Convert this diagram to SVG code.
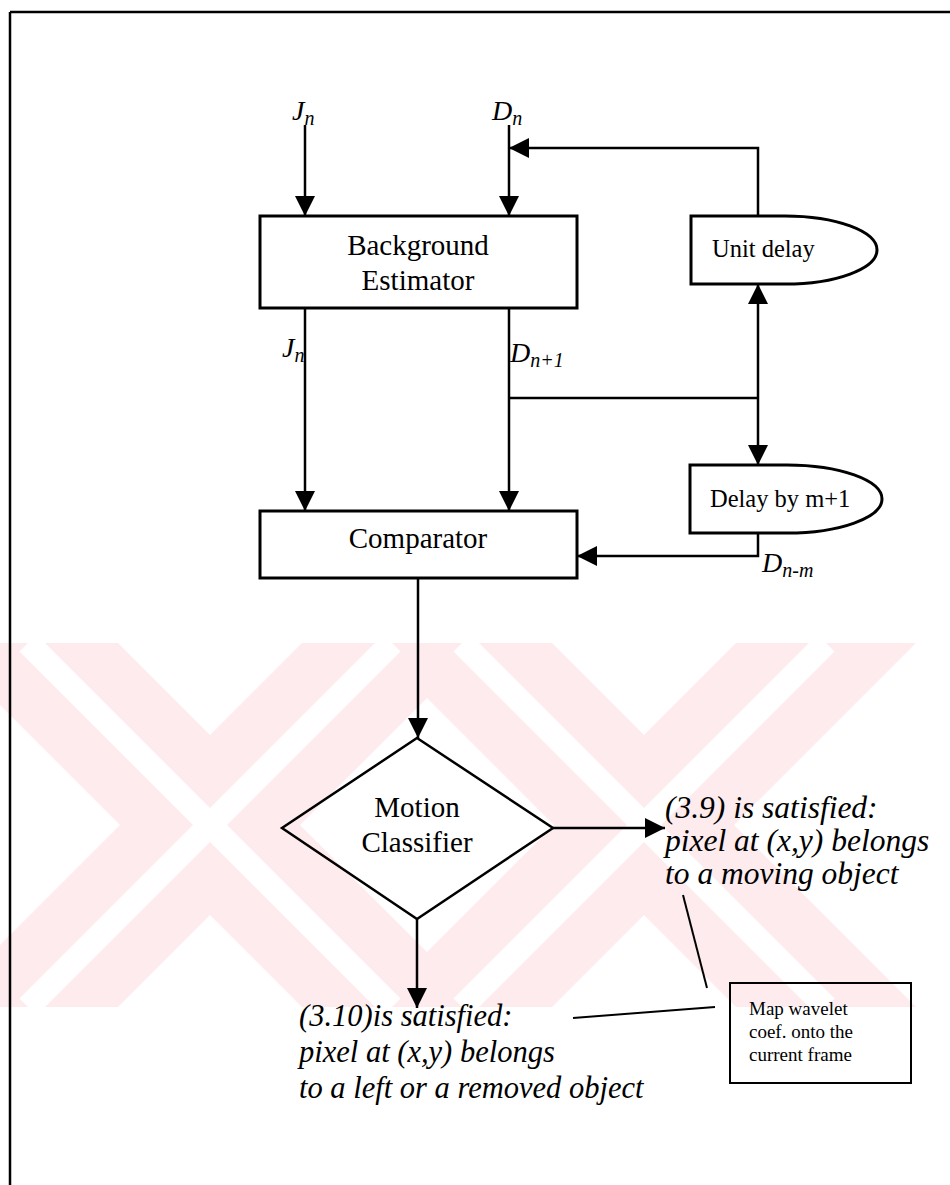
<svg xmlns="http://www.w3.org/2000/svg" width="950" height="1185" viewBox="0 0 950 1185">
  <style>
    .box { fill: none; stroke: #000; stroke-width: 3; }
    .wire { fill: none; stroke: #000; stroke-width: 2.5; }
    .thin { fill: none; stroke: #000; stroke-width: 2; }
    .lbl { font-family: "Liberation Serif", "Times New Roman", serif; fill: #000; }
    .it { font-family: "Liberation Serif", "Times New Roman", serif; font-style: italic; fill: #000; }
    .wm { fill: #fdebee; }
  </style>
  <defs>
    <marker id="arrow" viewBox="0 0 20 20" refX="20" refY="10" markerWidth="20" markerHeight="20" markerUnits="userSpaceOnUse" orient="auto">
      <path d="M0,0 L20,10 L0,20 z" fill="#000"/>
    </marker>
    <clipPath id="wmclip">
      <rect x="0" y="643" width="950" height="364"/>
    </clipPath>
  </defs>

  <rect x="0" y="0" width="950" height="1185" fill="#fff"/>

  <!-- faint background mark: two inline X letters -->
  <g id="watermark" clip-path="url(#wmclip)">
    <g class="wm">
      <polygon points="-62,643 118,643 482,1007 302,1007"/>
      <polygon points="302,643 482,643 118,1007 -62,1007"/>
      <polygon points="372,643 552,643 916,1007 736,1007"/>
      <polygon points="736,643 916,643 552,1007 372,1007"/>
    </g>
    <g stroke="#fff" stroke-width="24">
      <line x1="28" y1="643" x2="392" y2="1007"/>
      <line x1="392" y1="643" x2="28" y2="1007"/>
      <line x1="462" y1="643" x2="826" y2="1007"/>
      <line x1="826" y1="643" x2="462" y2="1007"/>
    </g>
  </g>

  <!-- page frame -->
  <g id="frame" class="wire">
    <line x1="10" y1="12" x2="950" y2="12"/>
    <line x1="10" y1="12" x2="10" y2="1185"/>
  </g>

  <!-- connectors -->
  <g id="connectors">
    <line class="wire" x1="305" y1="125" x2="305" y2="216" marker-end="url(#arrow)"/>
    <line class="wire" x1="509" y1="125" x2="509" y2="216" marker-end="url(#arrow)"/>
    <polyline class="wire" points="758,216 758,148 509,148" marker-end="url(#arrow)"/>
    <line class="wire" x1="305" y1="308" x2="305" y2="511" marker-end="url(#arrow)"/>
    <line class="wire" x1="509" y1="308" x2="509" y2="511" marker-end="url(#arrow)"/>
    <line class="wire" x1="509" y1="398" x2="758" y2="398"/>
    <line class="wire" x1="758" y1="398" x2="758" y2="284" marker-end="url(#arrow)"/>
    <line class="wire" x1="758" y1="398" x2="758" y2="465" marker-end="url(#arrow)"/>
    <polyline class="wire" points="758,533 758,556 577,556" marker-end="url(#arrow)"/>
    <line class="wire" x1="418" y1="578" x2="418" y2="738" marker-end="url(#arrow)"/>
    <line class="wire" x1="553" y1="828" x2="665" y2="828" marker-end="url(#arrow)"/>
    <line class="wire" x1="417" y1="919" x2="417" y2="1008" marker-end="url(#arrow)"/>
    <line class="thin" x1="683" y1="895" x2="707" y2="988"/>
    <line class="thin" x1="573" y1="1018" x2="715" y2="1007"/>
  </g>

  <!-- signal labels -->
  <g id="signal-labels">
    <text class="it" x="292" y="120" font-size="28">J<tspan font-size="20" dy="5">n</tspan></text>
    <text class="it" x="492" y="120" font-size="28">D<tspan font-size="20" dy="5">n</tspan></text>
    <text class="it" x="282" y="357" font-size="28">J<tspan font-size="20" dy="5">n</tspan></text>
    <text class="it" x="510" y="362" font-size="28">D<tspan font-size="20" dy="5">n+1</tspan></text>
    <text class="it" x="762" y="572" font-size="28">D<tspan font-size="20" dy="5">n-m</tspan></text>
  </g>

  <g id="background-estimator">
    <rect class="box" x="260" y="216" width="317" height="92"/>
    <text class="lbl" x="418" y="255" font-size="29" text-anchor="middle">Background</text>
    <text class="lbl" x="418" y="290" font-size="29" text-anchor="middle">Estimator</text>
  </g>

  <g id="unit-delay">
    <path class="box" d="M691,216 H785 A92,34 0 0 1 785,284 H691 Z"/>
    <text class="lbl" x="712" y="257" font-size="24.5">Unit delay</text>
  </g>

  <g id="delay-m1">
    <path class="box" d="M690,465 H787 A95,34 0 0 1 787,533 H690 Z"/>
    <text class="lbl" x="710" y="507" font-size="24.5">Delay by m+1</text>
  </g>

  <g id="comparator">
    <rect class="box" x="260" y="511" width="317" height="67"/>
    <text class="lbl" x="418" y="548" font-size="29" text-anchor="middle">Comparator</text>
  </g>

  <g id="motion-classifier">
    <polygon class="wire" points="417,738 553,828 417,919 282,828"/>
    <text class="lbl" x="417" y="817" font-size="29" text-anchor="middle">Motion</text>
    <text class="lbl" x="417" y="852" font-size="29" text-anchor="middle">Classifier</text>
  </g>

  <g id="moving-object">
    <text class="it" font-size="31.5">
      <tspan x="665" y="818">(3.9) is satisfied:</tspan>
      <tspan x="665" y="851">pixel at (x,y) belongs</tspan>
      <tspan x="665" y="884">to a moving object</tspan>
    </text>
  </g>

  <g id="left-removed-object">
    <text class="it" font-size="30.5">
      <tspan x="299" y="1026">(3.10)is satisfied:</tspan>
      <tspan x="299" y="1062">pixel at (x,y) belongs</tspan>
      <tspan x="299" y="1098">to a left or a removed object</tspan>
    </text>
  </g>

  <g id="map-wavelet">
    <rect class="thin" x="730" y="983" width="181" height="100"/>
    <text class="lbl" font-size="19">
      <tspan x="749" y="1015">Map wavelet</tspan>
      <tspan x="749" y="1038">coef. onto the</tspan>
      <tspan x="749" y="1061">current frame</tspan>
    </text>
  </g>
</svg>
